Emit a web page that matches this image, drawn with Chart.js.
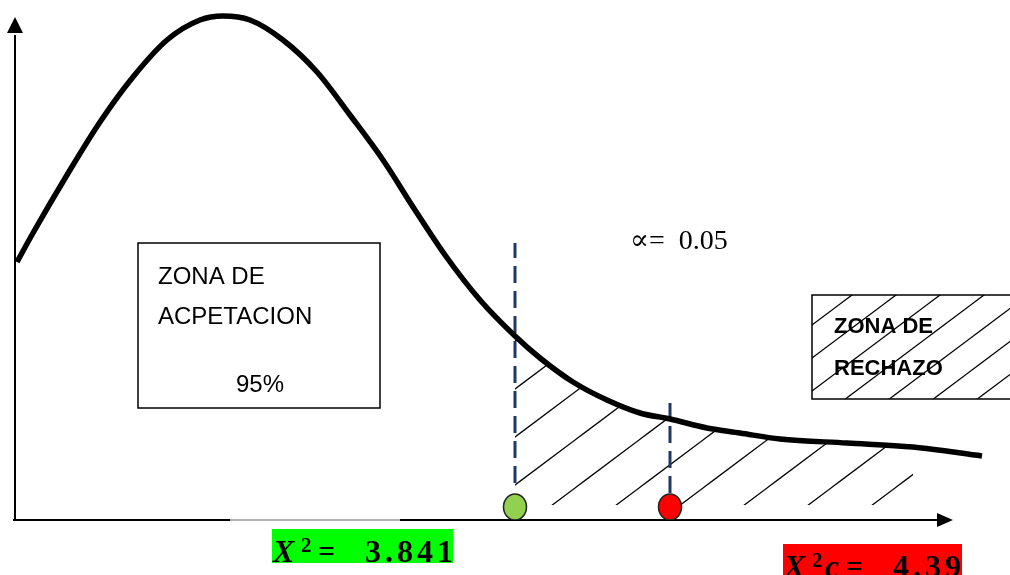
<!DOCTYPE html>
<html>
<head>
<meta charset="utf-8">
<script src="https://cdn.jsdelivr.net/npm/chart.js@4"></script>
<style>
  html, body { margin: 0; background: #fff; }
  canvas { display: block; }
</style>
</head>
<body>
<canvas id="chart" width="1010" height="575"></canvas>
<script>
// curva chi-cuadrado (unidades del dibujo, eje x 0..99, eje y 0..51)
const curveX = [0.2, 1.8, 5.2, 8.5, 11.8, 15.2, 18.5, 20.8, 23.5, 26.8, 30.2, 33.5, 36.8, 40, 43, 46.5, 50, 52.5, 55.8, 59.2, 62.5, 65.5, 69.2, 72.5, 76.5, 83.2, 89.8, 96.7];
const curveY = [25.8, 28.7, 34.5, 39.8, 44.3, 48, 50, 50.4, 50, 48, 44.8, 40.5, 36, 31, 26.5, 22, 18.4, 16.2, 13.8, 12, 10.7, 10.1, 9.2, 8.7, 8.1, 7.7, 7.3, 6.4];

// valor critico (verde) y valor calculado (rojo)
const markX = [50, 65.5];
const markY = [1.3, 1.3];
const dashTop = [27.7, 11.7];
const dashBottom = [3.7, 2.7];
const markValues = ['3.841', '4.39'];
const alphaValue = '0.05';
const acceptPct = '95%';

// zona de rechazo: desde el valor critico hasta el final del rayado
const tailEnd = 92;
const hatchBase = 1.5;

const tailData = curveX
  .map((x, i) => ({ x: x, y: curveY[i] }))
  .filter(p => p.x >= markX[0] && p.x <= tailEnd);

function makeHatch(w, h, offset, lw) {
  const c = document.createElement('canvas');
  c.width = w; c.height = h;
  const g = c.getContext('2d');
  g.strokeStyle = '#000';
  g.lineWidth = lw;
  for (let k = -2; k <= 2; k++) {
    const cc = offset + k * h;
    g.beginPath();
    g.moveTo(-w, cc + h);
    g.lineTo(2 * w, cc - 2 * h);
    g.stroke();
  }
  return c;
}

function makeDot(color) {
  const c = document.createElement('canvas');
  c.width = 28; c.height = 30;
  const g = c.getContext('2d');
  g.beginPath();
  g.ellipse(14, 15, 11.5, 13, 0, 0, Math.PI * 2);
  g.fillStyle = color;
  g.fill();
  g.lineWidth = 1.5;
  g.strokeStyle = '#222';
  g.stroke();
  return c;
}

const ctx = document.getElementById('chart').getContext('2d');
const tailPattern = ctx.createPattern(makeHatch(64, 48, 7.25, 1.4), 'repeat');
const boxPattern = ctx.createPattern(makeHatch(44, 33, 10, 1.3), 'repeat');

// textos y recuadros (posiciones en unidades de los ejes)
const notes = {
  accBox: [12.3, 27.7, 36.5, 11.2],
  accLines: [['ZONA DE', 14.3, 23.6], ['ACPETACION', 14.3, 19.6], [acceptPct, 22.1, 12.8]],
  rejBox: [79.7, 22.5, 100, 12.1],
  rejLines: [['ZONA DE', 81.9, 18.7], ['RECHAZO', 81.9, 14.5]],
  alpha: [61.5, 27.1],
  labels: [
    { box: [25.7, -0.9, 43.8, -4.3], base: -4.2, color: '#00ff00', sub: '', eq: 46, num: 93 },
    { box: [76.8, -2.4, 94.7, -6], base: -5.7, color: '#ff0000', sub: 'c', eq: 63, num: 110 }
  ]
};

const drawingPlugin = {
  id: 'drawing',
  beforeDatasetsDraw(chart) {
    const c = chart.ctx, xs = chart.scales.x, ys = chart.scales.y;
    const x0 = xs.getPixelForValue(0), y0 = ys.getPixelForValue(0);
    c.save();
    // eje y con flecha
    c.strokeStyle = '#000';
    c.lineWidth = 2;
    c.beginPath();
    c.moveTo(x0, y0 + 1);
    c.lineTo(x0, ys.getPixelForValue(48.5));
    c.stroke();
    c.fillStyle = '#000';
    c.beginPath();
    c.moveTo(x0, ys.getPixelForValue(50.3));
    c.lineTo(x0 - 8, ys.getPixelForValue(48.7));
    c.lineTo(x0 + 8, ys.getPixelForValue(48.7));
    c.closePath();
    c.fill();
    // eje x con flecha
    c.beginPath();
    c.moveTo(x0 - 2, y0);
    c.lineTo(xs.getPixelForValue(21.5), y0);
    c.stroke();
    c.strokeStyle = '#999';
    c.lineWidth = 1.4;
    c.beginPath();
    c.moveTo(xs.getPixelForValue(21.5), y0);
    c.lineTo(xs.getPixelForValue(38.5), y0);
    c.stroke();
    c.strokeStyle = '#000';
    c.lineWidth = 2.2;
    c.beginPath();
    c.moveTo(xs.getPixelForValue(38.5), y0);
    c.lineTo(xs.getPixelForValue(92.5), y0);
    c.stroke();
    c.beginPath();
    c.moveTo(xs.getPixelForValue(93.8), y0);
    c.lineTo(xs.getPixelForValue(92.2), y0 - 7);
    c.lineTo(xs.getPixelForValue(92.2), y0 + 7);
    c.closePath();
    c.fill();
    c.restore();
  },
  afterDatasetsDraw(chart) {
    const c = chart.ctx, xs = chart.scales.x, ys = chart.scales.y;
    const X = v => xs.getPixelForValue(v), Y = v => ys.getPixelForValue(v);
    c.save();
    c.textBaseline = 'alphabetic';
    c.textAlign = 'left';

    // zona de aceptacion
    let b = notes.accBox;
    c.strokeStyle = '#000';
    c.lineWidth = 1.5;
    c.strokeRect(X(b[0]), Y(b[1]), X(b[2]) - X(b[0]), Y(b[3]) - Y(b[1]));
    c.fillStyle = '#000';
    c.font = '24px "Liberation Sans", Arial, sans-serif';
    notes.accLines.forEach(l => c.fillText(l[0], X(l[1]), Y(l[2])));

    // recuadro zona de rechazo
    b = notes.rejBox;
    c.fillStyle = boxPattern;
    c.fillRect(X(b[0]), Y(b[1]), X(b[2]) - X(b[0]), Y(b[3]) - Y(b[1]));
    c.strokeRect(X(b[0]), Y(b[1]), X(b[2]) - X(b[0]), Y(b[3]) - Y(b[1]));
    c.fillStyle = '#000';
    c.font = 'bold 22px "Liberation Sans", Arial, sans-serif';
    notes.rejLines.forEach(l => c.fillText(l[0], X(l[1]), Y(l[2])));

    // alfa
    c.font = '28px "Liberation Serif", "DejaVu Serif", serif';
    c.fillText('\u221D=  ' + alphaValue, X(notes.alpha[0]), Y(notes.alpha[1]));

    // etiquetas X^2
    notes.labels.forEach((l, i) => {
      const left = X(l.box[0]), top = Y(l.box[1]);
      c.fillStyle = l.color;
      c.fillRect(left, top, X(l.box[2]) - left, Y(l.box[3]) - top);
      const base = Y(l.base);
      c.fillStyle = '#000';
      c.font = 'italic bold 32px "Liberation Serif", serif';
      c.fillText('X', left + 1, base);
      c.font = 'bold 21px "Liberation Serif", serif';
      c.fillText('2', left + 29, base - 10);
      if (l.sub) {
        c.font = 'italic bold 32px "Liberation Serif", serif';
        c.fillText(l.sub, left + 42, base);
      }
      c.font = 'bold 30px "Liberation Serif", serif';
      c.fillText('=', left + l.eq, base - 1);
      c.font = 'bold 32px "Liberation Serif", serif';
      c.letterSpacing = '4px';
      c.fillText(markValues[i], left + l.num, base);
      c.letterSpacing = '0px';
    });
    c.restore();
  }
};

new Chart(ctx, {
  type: 'scatter',
  data: {
    datasets: [
      {
        label: 'curva',
        data: curveX.map((x, i) => ({ x: x, y: curveY[i] })),
        showLine: true,
        borderColor: '#000',
        borderWidth: 5.5,
        cubicInterpolationMode: 'monotone',
        pointRadius: 0,
        fill: false,
        order: 1
      },
      {
        label: 'rechazo',
        data: tailData,
        showLine: true,
        borderWidth: 0,
        borderColor: 'rgba(0,0,0,0)',
        backgroundColor: tailPattern,
        cubicInterpolationMode: 'monotone',
        pointRadius: 0,
        fill: { value: hatchBase },
        order: 5
      },
      {
        label: 'critico',
        data: [{ x: markX[0], y: dashBottom[0] }, { x: markX[0], y: dashTop[0] }],
        showLine: true,
        borderColor: '#1f3864',
        borderWidth: 3,
        borderDash: [17, 8],
        pointRadius: 0,
        order: 2
      },
      {
        label: 'calculado',
        data: [{ x: markX[1], y: dashBottom[1] }, { x: markX[1], y: dashTop[1] }],
        showLine: true,
        borderColor: '#1f3864',
        borderWidth: 3,
        borderDash: [17, 8],
        pointRadius: 0,
        order: 2
      },
      {
        label: 'puntos',
        data: markX.map((x, i) => ({ x: x, y: markY[i] })),
        showLine: false,
        pointStyle: [makeDot('#92d050'), makeDot('#ff0000')],
        pointRadius: 13,
        order: 0
      }
    ]
  },
  options: {
    responsive: false,
    animation: false,
    layout: { autoPadding: false, padding: { left: 15, right: 5, top: 10, bottom: 55 } },
    scales: {
      x: { type: 'linear', min: 0, max: 99, display: false },
      y: { type: 'linear', min: 0, max: 51, display: false }
    },
    plugins: {
      legend: { display: false },
      tooltip: { enabled: false }
    }
  },
  plugins: [drawingPlugin]
});
</script>
</body>
</html>
